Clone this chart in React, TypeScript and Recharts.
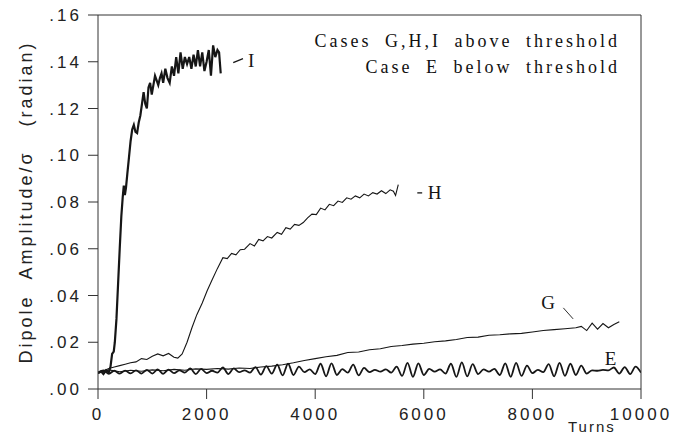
import React from 'react';
import { LineChart, Line, XAxis, YAxis, ReferenceDot, ReferenceLine } from 'recharts';

// turns axis ticks and amplitude ticks
const turnTicks = [0, 2000, 4000, 6000, 8000, 10000];
const ampTicks = [0, 0.02, 0.04, 0.06, 0.08, 0.1, 0.12, 0.14, 0.16];

// case I (bold curve)
const iTurns = [0, 60, 100, 150, 200, 230, 260, 290, 310, 340, 370, 400, 430, 455, 475, 495, 515, 540, 570, 600, 630, 660, 690, 720, 750, 780, 810, 840, 870, 900, 930, 960, 990, 1020, 1050, 1080, 1110, 1140, 1170, 1200, 1240, 1280, 1320, 1360, 1400, 1440, 1480, 1520, 1560, 1600, 1640, 1680, 1720, 1760, 1800, 1840, 1880, 1920, 1960, 2000, 2040, 2080, 2120, 2160, 2200, 2230, 2260];
const iAmp = [0.0068, 0.0075, 0.0064, 0.008, 0.0072, 0.0095, 0.015, 0.016, 0.02, 0.03, 0.045, 0.06, 0.074, 0.082, 0.087, 0.083, 0.086, 0.092, 0.099, 0.106, 0.111, 0.113, 0.11, 0.1095, 0.114, 0.117, 0.122, 0.127, 0.122, 0.12, 0.129, 0.131, 0.126, 0.13, 0.134, 0.132, 0.13, 0.133, 0.135, 0.131, 0.137, 0.133, 0.131, 0.138, 0.134, 0.142, 0.135, 0.144, 0.137, 0.142, 0.139, 0.142, 0.137, 0.143, 0.138, 0.145, 0.138, 0.144, 0.136, 0.14, 0.145, 0.134, 0.147, 0.142, 0.145, 0.144, 0.135];

// case H
const hTurns = [0, 100, 200, 300, 400, 500, 600, 700, 800, 900, 1000, 1100, 1200, 1300, 1400, 1470, 1550, 1640, 1730, 1820, 1920, 2010, 2100, 2200, 2300, 2380, 2460, 2540, 2620, 2700, 2800, 2880, 2960, 3040, 3120, 3200, 3300, 3380, 3460, 3540, 3620, 3700, 3780, 3860, 3940, 4020, 4100, 4180, 4260, 4340, 4420, 4500, 4580, 4660, 4740, 4820, 4900, 4980, 5060, 5140, 5220, 5300, 5380, 5440, 5480, 5530];
const hAmp = [0.0068, 0.0078, 0.0088, 0.0094, 0.01, 0.0106, 0.0112, 0.0116, 0.013, 0.0126, 0.014, 0.015, 0.0142, 0.0152, 0.0136, 0.0132, 0.015, 0.02, 0.0262, 0.0318, 0.0368, 0.042, 0.0466, 0.0516, 0.0562, 0.0558, 0.058, 0.0574, 0.0596, 0.0598, 0.0622, 0.0612, 0.064, 0.0634, 0.0652, 0.0646, 0.067, 0.0662, 0.069, 0.0684, 0.0704, 0.07, 0.0712, 0.0732, 0.0748, 0.0746, 0.0774, 0.0766, 0.079, 0.0784, 0.0804, 0.0798, 0.0818, 0.0812, 0.0826, 0.0818, 0.0834, 0.0826, 0.084, 0.0834, 0.0848, 0.0836, 0.0852, 0.0846, 0.0828, 0.0874];

// case G
const gTurns = [0, 200, 400, 600, 800, 1000, 1200, 1400, 1600, 1800, 2000, 2200, 2400, 2600, 2800, 3000, 3200, 3400, 3600, 3800, 4000, 4200, 4400, 4600, 4800, 5000, 5200, 5400, 5600, 5800, 6000, 6200, 6400, 6600, 6800, 7000, 7200, 7400, 7600, 7800, 8000, 8200, 8400, 8600, 8800, 8900, 9000, 9100, 9200, 9300, 9400, 9500, 9600];
const gAmp = [0.0068, 0.0082, 0.0074, 0.008, 0.0076, 0.0082, 0.0078, 0.0084, 0.008, 0.0086, 0.0084, 0.0088, 0.0085, 0.009, 0.0088, 0.0094, 0.0098, 0.0104, 0.0112, 0.0122, 0.013, 0.0138, 0.0144, 0.0156, 0.0158, 0.0168, 0.0172, 0.0182, 0.0186, 0.0192, 0.0196, 0.0202, 0.0206, 0.0212, 0.022, 0.0222, 0.023, 0.0232, 0.0236, 0.0238, 0.0244, 0.025, 0.0254, 0.0258, 0.0262, 0.0268, 0.025, 0.0282, 0.0256, 0.028, 0.0262, 0.0276, 0.0288];

// case E
const eTurns = [0, 100, 200, 300, 400, 500, 600, 700, 800, 900, 1000, 1100, 1200, 1300, 1400, 1500, 1600, 1700, 1800, 1900, 2000, 2100, 2200, 2300, 2400, 2500, 2600, 2700, 2800, 2900, 3000, 3100, 3200, 3300, 3400, 3500, 3600, 3700, 3800, 3900, 4000, 4100, 4200, 4300, 4400, 4500, 4600, 4700, 4800, 4900, 5000, 5100, 5200, 5300, 5400, 5500, 5600, 5700, 5800, 5900, 6000, 6100, 6200, 6300, 6400, 6500, 6600, 6700, 6800, 6900, 7000, 7100, 7200, 7300, 7400, 7500, 7600, 7700, 7800, 7900, 8000, 8100, 8200, 8300, 8400, 8500, 8600, 8700, 8800, 8900, 9000, 9100, 9200, 9300, 9400, 9500, 9600, 9700, 9800, 9900, 10000];
const eAmp = [0.007, 0.008, 0.0065, 0.0078, 0.0066, 0.0079, 0.0067, 0.008, 0.0066, 0.0082, 0.0066, 0.0084, 0.0065, 0.0083, 0.0068, 0.008, 0.007, 0.0088, 0.0064, 0.0086, 0.0068, 0.0078, 0.007, 0.0092, 0.0064, 0.0088, 0.0072, 0.008, 0.007, 0.0094, 0.0062, 0.0098, 0.0066, 0.0104, 0.0058, 0.0108, 0.006, 0.0096, 0.0072, 0.0084, 0.0064, 0.0108, 0.0054, 0.011, 0.006, 0.0085, 0.007, 0.0104, 0.0058, 0.009, 0.0072, 0.0082, 0.0074, 0.0084, 0.007, 0.0096, 0.0056, 0.0112, 0.0052, 0.011, 0.006, 0.0086, 0.0074, 0.0084, 0.0066, 0.0108, 0.0052, 0.0114, 0.0054, 0.0106, 0.0064, 0.0084, 0.0074, 0.0086, 0.006, 0.011, 0.0052, 0.0112, 0.0056, 0.01, 0.0068, 0.0082, 0.0072, 0.0106, 0.0054, 0.0112, 0.0056, 0.0108, 0.006, 0.01, 0.0066, 0.008, 0.0078, 0.0082, 0.008, 0.0092, 0.0066, 0.0094, 0.0064, 0.0096, 0.007];

const zip = (ts: number[], vs: number[]) => ts.map((t, i) => ({ t, v: vs[i] }));
const caseI = zip(iTurns, iAmp);
const caseH = zip(hTurns, hAmp);
const caseG = zip(gTurns, gAmp);
const caseE = zip(eTurns, eAmp);

const ink = '#161616';
const axisInk = '#333';
const tickFont = { fontFamily: 'Liberation Sans, Arial, sans-serif', fontSize: 17, fill: '#222', letterSpacing: 3 };
const letterFont = { fontFamily: 'Liberation Serif, serif', fontSize: 19, fill: ink };

const fmtAmp = (v: number) => v.toFixed(2).replace(/^0/, '');

const YTitle = (props: any) => {
  const vb = props.viewBox;
  const cx = 26;
  const cy = vb.y + vb.height / 2;
  return (
    <text x={cx} y={cy} transform={`rotate(-90 ${cx} ${cy})`} textAnchor="middle" dominantBaseline="central"
      style={{ whiteSpace: 'pre' }} fontFamily="Liberation Sans, Arial, sans-serif" fontSize={18} fill="#222" letterSpacing={3}>
      {'Dipole  Amplitude/σ   (radian)'}
    </text>
  );
};

const App = () => {
  return (
    <div style={{ position: 'absolute', left: 0, top: 0, width: 699, height: 435, background: '#fff', overflow: 'hidden' }}>
      <LineChart width={699} height={435} margin={{ top: 5, right: 48, bottom: 0, left: 0 }}>
        <XAxis xAxisId="b" type="number" dataKey="t" domain={[0, 10000]} ticks={turnTicks} allowDataOverflow
          height={46} tickSize={10} tickMargin={9} stroke={axisInk} tick={tickFont} />
        <XAxis xAxisId="t" orientation="top" type="number" dataKey="t" domain={[0, 10000]} ticks={turnTicks} allowDataOverflow
          height={10} tickSize={10} tick={false} stroke={axisInk} />
        <YAxis yAxisId="l" type="number" domain={[0, 0.16]} ticks={ampTicks} allowDataOverflow width={98}
          tickSize={10} tickMargin={6} tickFormatter={fmtAmp} stroke={axisInk} tick={tickFont} label={<YTitle />} />
        <YAxis yAxisId="r" orientation="right" type="number" domain={[0, 0.16]} ticks={ampTicks} allowDataOverflow width={10}
          tickSize={10} tick={false} stroke={axisInk} />

        <Line xAxisId="b" yAxisId="l" data={caseE} dataKey="v" type="monotone" stroke={ink} strokeWidth={1.8} dot={false} isAnimationActive={false} />
        <Line xAxisId="b" yAxisId="l" data={caseG} dataKey="v" type="linear" stroke={ink} strokeWidth={1.1} dot={false} isAnimationActive={false} />
        <Line xAxisId="b" yAxisId="l" data={caseH} dataKey="v" type="linear" stroke={ink} strokeWidth={1.1} dot={false} isAnimationActive={false} />
        <Line xAxisId="b" yAxisId="l" data={caseI} dataKey="v" type="linear" stroke={ink} strokeWidth={2.2} dot={false} isAnimationActive={false} />

        <ReferenceLine xAxisId="b" yAxisId="l" segment={[{ x: 2490, y: 0.1396 }, { x: 2670, y: 0.1413 }]} stroke={ink} strokeWidth={1.3} />
        <ReferenceDot xAxisId="b" yAxisId="l" x={2820} y={0.1406} r={0} fill="none" stroke="none" label={{ value: 'I', position: 'center', ...letterFont }} />
        <ReferenceLine xAxisId="b" yAxisId="l" segment={[{ x: 5880, y: 0.0839 }, { x: 5970, y: 0.0839 }]} stroke={ink} strokeWidth={1.3} />
        <ReferenceDot xAxisId="b" yAxisId="l" x={6200} y={0.0843} r={0} fill="none" stroke="none" label={{ value: 'H', position: 'center', ...letterFont }} />
        <ReferenceLine xAxisId="b" yAxisId="l" segment={[{ x: 8570, y: 0.0347 }, { x: 8750, y: 0.03 }]} stroke={ink} strokeWidth={0.9} />
        <ReferenceDot xAxisId="b" yAxisId="l" x={8290} y={0.0372} r={0} fill="none" stroke="none" label={{ value: 'G', position: 'center', ...letterFont }} />
        <ReferenceDot xAxisId="b" yAxisId="l" x={9440} y={0.0133} r={0} fill="none" stroke="none" label={{ value: 'E', position: 'center', ...letterFont }} />
      </LineChart>

      <div style={{ position: 'absolute', right: 79, top: 28, textAlign: 'right', fontFamily: 'Liberation Serif, serif', fontSize: 18,
        letterSpacing: 3, wordSpacing: 6, lineHeight: '26px', color: '#111', whiteSpace: 'pre' }}>
        <div>Cases G,H,I above threshold</div>
        <div>Case E below threshold</div>
      </div>
      <div style={{ position: 'absolute', left: 568, top: 418, fontFamily: 'Liberation Sans, Arial, sans-serif', fontSize: 15,
        lineHeight: '17px', letterSpacing: 2, color: '#222' }}>Turns</div>
    </div>
  );
};

export default App;
